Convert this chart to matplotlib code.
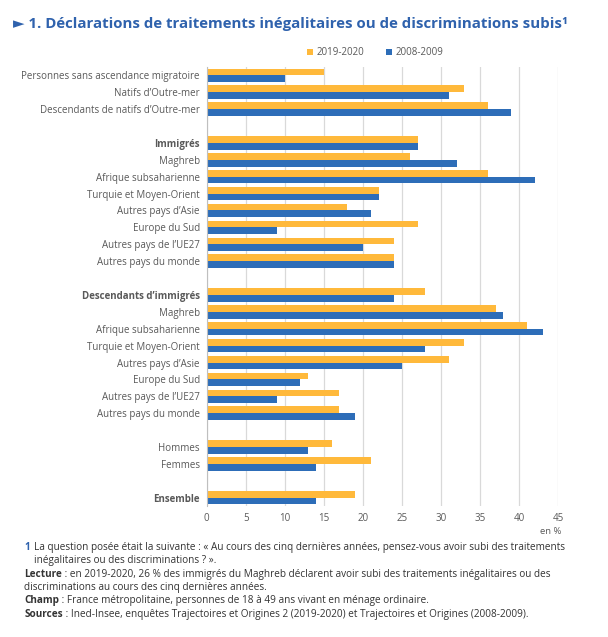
#Recreating the discrimination bar chart

#Importing
import matplotlib.pyplot as plt
import numpy as np

plt.rcParams['font.family'] = ['Open Sans', 'DejaVu Sans']

#Data - empty labels are the blank rows between groups
labels = ['Personnes sans ascendance migratoire', 'Natifs d’Outre-mer', 'Descendants de natifs d’Outre-mer', '',
          'Immigrés', 'Maghreb', 'Afrique subsaharienne', 'Turquie et Moyen-Orient', 'Autres pays d’Asie',
          'Europe du Sud', 'Autres pays de l’UE27', 'Autres pays du monde', '',
          'Descendants d’immigrés', 'Maghreb', 'Afrique subsaharienne', 'Turquie et Moyen-Orient', 'Autres pays d’Asie',
          'Europe du Sud', 'Autres pays de l’UE27', 'Autres pays du monde', '',
          'Hommes', 'Femmes', '',
          'Ensemble']
bold_labels = ['Immigrés', 'Descendants d’immigrés', 'Ensemble']
nan = np.nan
val_2019 = [15, 33, 36, nan,
            27, 26, 36, 22, 18, 27, 24, 24, nan,
            28, 37, 41, 33, 31, 13, 17, 17, nan,
            16, 21, nan,
            19]
val_2008 = [10, 31, 39, nan,
            27, 32, 42, 22, 21, 9, 20, 24, nan,
            24, 38, 43, 28, 25, 12, 9, 19, nan,
            13, 14, nan,
            14]
series_names = ['2019-2020', '2008-2009']

orange = '#ffb93b'
blue = '#2d6db8'
title_blue = '#2f62ad'
grey_text = '#595959'

fig = plt.figure(figsize=(6.08, 6.37), dpi=100)
ax = fig.add_axes([0.340, 0.2055, 0.578, 0.6895])

y = np.arange(len(labels))
bh = 0.4
ax.barh(y - bh / 2, val_2019, height=bh, color=orange, label=series_names[0], zorder=3)
ax.barh(y + bh / 2, val_2008, height=bh, color=blue, label=series_names[1], zorder=3)

ax.set_xlim(0, 45)
ax.set_ylim(len(labels) - 0.5, -0.5)
ax.set_xticks(np.arange(0, 46, 5))
ax.set_yticks(y)
ax.set_yticklabels(labels)
for t in ax.get_yticklabels():
    if t.get_text() in bold_labels:
        t.set_fontweight('bold')
ax.tick_params(axis='both', length=0, labelsize=7, labelcolor=grey_text)
ax.tick_params(axis='y', pad=5)
ax.tick_params(axis='x', pad=5)

ax.grid(axis='x', color='#d9d9d9', linewidth=0.9, zorder=0)
for s in ['top', 'right', 'bottom']:
    ax.spines[s].set_visible(False)
ax.spines['left'].set_color('#bfbfbf')
ax.spines['left'].set_zorder(4)

ax.text(1.01, -0.047, 'en %', transform=ax.transAxes, ha='right', va='top', fontsize=6.8, color=grey_text)

#Legend
ax.legend(loc='lower center', bbox_to_anchor=(0.48, 1.0), ncol=2, frameon=False, fontsize=7,
          handlelength=0.6, handleheight=0.6, columnspacing=2.2, handletextpad=0.4, labelcolor=grey_text)

#Title
fig.text(0.022, 0.962, '► 1. Déclarations de traitements inégalitaires ou de discriminations subis¹',
         fontsize=10.8, fontweight='bold', color=title_blue, va='center', ha='left')

#Footnotes
note_color = '#333333'
fs = 7.2
fig.text(0.040, 0.132, '1', fontsize=fs, fontweight='bold', color=title_blue, va='bottom')
fig.text(0.056, 0.132, 'La question posée était la suivante : « Au cours des cinq dernières années, pensez-vous avoir subi des traitements',
         fontsize=fs, color=note_color, va='bottom')
fig.text(0.056, 0.111, 'inégalitaires ou des discriminations ? ».', fontsize=fs, color=note_color, va='bottom')

notes = [(0.090, 'Lecture', ' : en 2019-2020, 26 % des immigrés du Maghreb déclarent avoir subi des traitements inégalitaires ou des'),
         (0.048, 'Champ', ' : France métropolitaine, personnes de 18 à 49 ans vivant en ménage ordinaire.'),
         (0.027, 'Sources', ' : Ined-Insee, enquêtes Trajectoires et Origines 2 (2019-2020) et Trajectoires et Origines (2008-2009).')]
for ypos, head, rest in notes:
    h = fig.text(0.040, ypos, head, fontsize=fs, fontweight='bold', color=note_color, va='bottom')
    ax.annotate(rest, xy=(1, 0), xycoords=h, fontsize=fs, color=note_color, va='bottom', ha='left',
                annotation_clip=False)
fig.text(0.040, 0.069, 'discriminations au cours des cinq dernières années.', fontsize=fs, color=note_color, va='bottom')

plt.savefig('out.png', dpi=100)
